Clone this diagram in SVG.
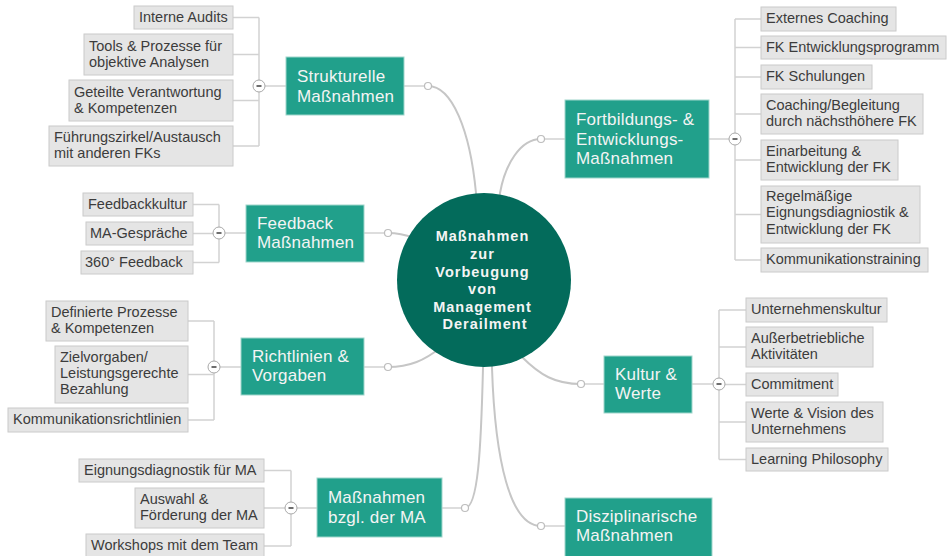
<svg xmlns="http://www.w3.org/2000/svg" width="947" height="556" viewBox="0 0 947 556">
<style>
.bg{fill:#ffffff}
.main{fill:none;stroke:#c6c6c6;stroke-width:2;stroke-linecap:round}
.sub{fill:none;stroke:#d2d2d2;stroke-width:1.5}
.dot{fill:#ffffff;stroke:#bdbdbd;stroke-width:1.2}
.col{fill:#ffffff;stroke:#a8a8a8;stroke-width:1}
.minus{stroke:#4a4a4a;stroke-width:1.6}
.br{fill:#21a08b;stroke:#9fd6cb;stroke-width:1}
.brt{font-family:"Liberation Sans",Arial,sans-serif;font-size:17px;fill:#f4f4f4;letter-spacing:0.2px}
.ch{fill:#e5e5e5;stroke:#cacaca;stroke-width:1}
.cht{font-family:"Liberation Sans",Arial,sans-serif;font-size:14.5px;fill:#3c3c3c}
.ct{font-family:"Liberation Sans",Arial,sans-serif;font-size:14.5px;font-weight:bold;fill:#f4f4f4;letter-spacing:1px}
</style>
<rect class="bg" x="0" y="0" width="947" height="556"/>

<g id="connectors">
  <!-- main curves -->
  <path class="main" d="M428,86 C452,86 470,130 476,193 L479,230"/>
  <path class="main" d="M541,139 C520,139 505,165 500,193 L497,220"/>
  <path class="main" d="M388,233 C400,233 406,235 414,238 L440,250"/>
  <path class="main" d="M388,367 C410,367 425,360 440,348 L455,335"/>
  <path class="main" d="M465,508 C478,508 481,450 483,368 L484,340"/>
  <path class="main" d="M541,526 C510,526 495,460 492,368 L490,340"/>
  <path class="main" d="M581,384 C555,384 540,375 522,357 L510,345"/>
  <!-- branch stubs -->
  <path class="sub" d="M404,86 H428 M541,139 H565 M364,233 H388 M364,367 H388 M442,508 H465 M581,384 H604 M541,526 H565"/>
  <!-- Strukturelle children -->
  <path class="sub" d="M404,86 H265 M259,17.5 V146 M233,17.5 H259 M233,54.5 H259 M233,100.5 H259 M233,146 H259"/>
  <!-- Feedback children -->
  <path class="sub" d="M246,233 H225 M219,204.5 V262.5 M193,204.5 H219 M193,233.5 H219 M193,262.5 H219"/>
  <!-- Richtlinien children -->
  <path class="sub" d="M241,367 H220 M214,321 V420 M188,321 H214 M188,374.5 H214 M188,420 H214"/>
  <!-- MA children -->
  <path class="sub" d="M317,508 H297 M291,470.5 V546 M264,470.5 H291 M264,508 H291 M264,546 H291"/>
  <!-- Fortbildungs children -->
  <path class="sub" d="M709,139 H729 M735,19 V260 M735,19 H761 M735,47.5 H761 M735,77 H761 M735,114 H761 M735,160 H761 M735,214.5 H761 M735,260 H761"/>
  <!-- Kultur children -->
  <path class="sub" d="M692,384 H713 M719,310 V459.5 M719,310 H746 M719,347 H746 M719,384.5 H746 M719,422 H746 M719,459.5 H746"/>
  <!-- small dots -->
  <circle class="dot" cx="428" cy="86" r="3.5"/>
  <circle class="dot" cx="541" cy="139" r="3.5"/>
  <circle class="dot" cx="388" cy="233" r="3.5"/>
  <circle class="dot" cx="388" cy="367" r="3.5"/>
  <circle class="dot" cx="465" cy="508" r="3.5"/>
  <circle class="dot" cx="541" cy="526" r="3.5"/>
  <circle class="dot" cx="581" cy="384" r="3.5"/>
  <!-- collapse buttons -->
  <g>
    <circle class="col" cx="259" cy="86" r="6"/><line class="minus" x1="256.5" y1="86" x2="261.5" y2="86"/>
    <circle class="col" cx="219" cy="233" r="6"/><line class="minus" x1="216.5" y1="233" x2="221.5" y2="233"/>
    <circle class="col" cx="214" cy="367" r="6"/><line class="minus" x1="211.5" y1="367" x2="216.5" y2="367"/>
    <circle class="col" cx="291" cy="508" r="6"/><line class="minus" x1="288.5" y1="508" x2="293.5" y2="508"/>
    <circle class="col" cx="735" cy="139" r="6"/><line class="minus" x1="732.5" y1="139" x2="737.5" y2="139"/>
    <circle class="col" cx="719" cy="384" r="6"/><line class="minus" x1="716.5" y1="384" x2="721.5" y2="384"/>
  </g>
</g>

<g id="center">
  <circle cx="484" cy="280" r="87" fill="#036b5b"/>
  <text class="ct" text-anchor="middle">
    <tspan x="485" y="241">Maßnahmen</tspan>
    <tspan x="485" y="259">zur</tspan>
    <tspan x="485" y="277">Vorbeugung</tspan>
    <tspan x="485" y="294">von</tspan>
    <tspan x="485" y="312">Management</tspan>
    <tspan x="485" y="329">Derailment</tspan>
  </text>
</g>

<g id="strukturelle">
  <rect class="br" x="286" y="57" width="118" height="58"/>
  <text class="brt"><tspan x="297" y="82">Strukturelle</tspan><tspan x="297" y="102">Maßnahmen</tspan></text>
</g>
<g id="s1"><rect class="ch" x="134" y="6" width="99" height="23"/><text class="cht" x="139" y="22">Interne Audits</text></g>
<g id="s2"><rect class="ch" x="84" y="34" width="149" height="41"/><text class="cht"><tspan x="89" y="51">Tools &amp; Prozesse für</tspan><tspan x="89" y="67">objektive Analysen</tspan></text></g>
<g id="s3"><rect class="ch" x="69" y="80" width="164" height="41"/><text class="cht"><tspan x="74" y="97">Geteilte Verantwortung</tspan><tspan x="74" y="113">&amp; Kompetenzen</tspan></text></g>
<g id="s4"><rect class="ch" x="49" y="126" width="184" height="40"/><text class="cht"><tspan x="54" y="142">Führungszirkel/Austausch</tspan><tspan x="54" y="158">mit anderen FKs</tspan></text></g>

<g id="feedback">
  <rect class="br" x="246" y="205" width="118" height="57"/>
  <text class="brt"><tspan x="257" y="229">Feedback</tspan><tspan x="257" y="248">Maßnahmen</tspan></text>
</g>
<g id="f1"><rect class="ch" x="83" y="193" width="110" height="23"/><text class="cht" x="88" y="209">Feedbackkultur</text></g>
<g id="f2"><rect class="ch" x="86" y="222" width="107" height="23"/><text class="cht" x="90" y="238">MA-Gespräche</text></g>
<g id="f3"><rect class="ch" x="81" y="251" width="112" height="23"/><text class="cht" x="85" y="267">360° Feedback</text></g>

<g id="richtlinien">
  <rect class="br" x="241" y="338" width="123" height="57"/>
  <text class="brt"><tspan x="252" y="362">Richtlinien &amp;</tspan><tspan x="252" y="381">Vorgaben</tspan></text>
</g>
<g id="r1"><rect class="ch" x="46" y="301" width="142" height="40"/><text class="cht"><tspan x="51" y="317">Definierte Prozesse</tspan><tspan x="51" y="333">&amp; Kompetenzen</tspan></text></g>
<g id="r2"><rect class="ch" x="55" y="346" width="133" height="57"/><text class="cht"><tspan x="60" y="362">Zielvorgaben/</tspan><tspan x="60" y="378">Leistungsgerechte</tspan><tspan x="60" y="394">Bezahlung</tspan></text></g>
<g id="r3"><rect class="ch" x="8" y="408" width="180" height="24"/><text class="cht" x="13" y="424">Kommunikationsrichtlinien</text></g>

<g id="ma">
  <rect class="br" x="317" y="478" width="125" height="59"/>
  <text class="brt"><tspan x="328" y="503">Maßnahmen</tspan><tspan x="328" y="523">bzgl. der MA</tspan></text>
</g>
<g id="m1"><rect class="ch" x="79" y="459" width="185" height="23"/><text class="cht" x="84" y="475">Eignungsdiagnostik für MA</text></g>
<g id="m2"><rect class="ch" x="135" y="488" width="129" height="40"/><text class="cht"><tspan x="140" y="504">Auswahl &amp;</tspan><tspan x="140" y="520">Förderung der MA</tspan></text></g>
<g id="m3"><rect class="ch" x="86" y="534" width="178" height="26"/><text class="cht" x="91" y="550">Workshops mit dem Team</text></g>

<g id="fortbildung">
  <rect class="br" x="565" y="100" width="144" height="78"/>
  <text class="brt"><tspan x="576" y="125">Fortbildungs- &amp;</tspan><tspan x="576" y="145">Entwicklungs-</tspan><tspan x="576" y="164">Maßnahmen</tspan></text>
</g>
<g id="e1"><rect class="ch" x="761" y="7" width="135" height="24"/><text class="cht" x="766" y="23">Externes Coaching</text></g>
<g id="e2"><rect class="ch" x="761" y="36" width="185" height="23"/><text class="cht" x="766" y="52">FK Entwicklungsprogramm</text></g>
<g id="e3"><rect class="ch" x="761" y="65" width="111" height="24"/><text class="cht" x="766" y="81">FK Schulungen</text></g>
<g id="e4"><rect class="ch" x="761" y="94" width="162" height="40"/><text class="cht"><tspan x="766" y="110">Coaching/Begleitung</tspan><tspan x="766" y="126">durch nächsthöhere FK</tspan></text></g>
<g id="e5"><rect class="ch" x="761" y="140" width="137" height="40"/><text class="cht"><tspan x="766" y="156">Einarbeitung &amp;</tspan><tspan x="766" y="172">Entwicklung der FK</tspan></text></g>
<g id="e6"><rect class="ch" x="761" y="186" width="159" height="57"/><text class="cht"><tspan x="766" y="201">Regelmäßige</tspan><tspan x="766" y="217">Eignungsdiagniostik &amp;</tspan><tspan x="766" y="234">Entwicklung der FK</tspan></text></g>
<g id="e7"><rect class="ch" x="761" y="248" width="167" height="24"/><text class="cht" x="766" y="264">Kommunikationstraining</text></g>

<g id="kultur">
  <rect class="br" x="604" y="356" width="88" height="57"/>
  <text class="brt"><tspan x="615" y="380">Kultur &amp;</tspan><tspan x="615" y="399">Werte</tspan></text>
</g>
<g id="k1"><rect class="ch" x="746" y="298" width="141" height="24"/><text class="cht" x="751" y="314">Unternehmenskultur</text></g>
<g id="k2"><rect class="ch" x="746" y="327" width="127" height="40"/><text class="cht"><tspan x="751" y="343">Außerbetriebliche</tspan><tspan x="751" y="359">Aktivitäten</tspan></text></g>
<g id="k3"><rect class="ch" x="746" y="373" width="92" height="23"/><text class="cht" x="751" y="389">Commitment</text></g>
<g id="k4"><rect class="ch" x="746" y="402" width="137" height="40"/><text class="cht"><tspan x="751" y="418">Werte &amp; Vision des</tspan><tspan x="751" y="434">Unternehmens</tspan></text></g>
<g id="k5"><rect class="ch" x="746" y="448" width="142" height="23"/><text class="cht" x="751" y="464">Learning Philosophy</text></g>

<g id="disziplinar">
  <rect class="br" x="565" y="498" width="147" height="62"/>
  <text class="brt"><tspan x="576" y="522">Disziplinarische</tspan><tspan x="576" y="541">Maßnahmen</tspan></text>
</g>
</svg>
